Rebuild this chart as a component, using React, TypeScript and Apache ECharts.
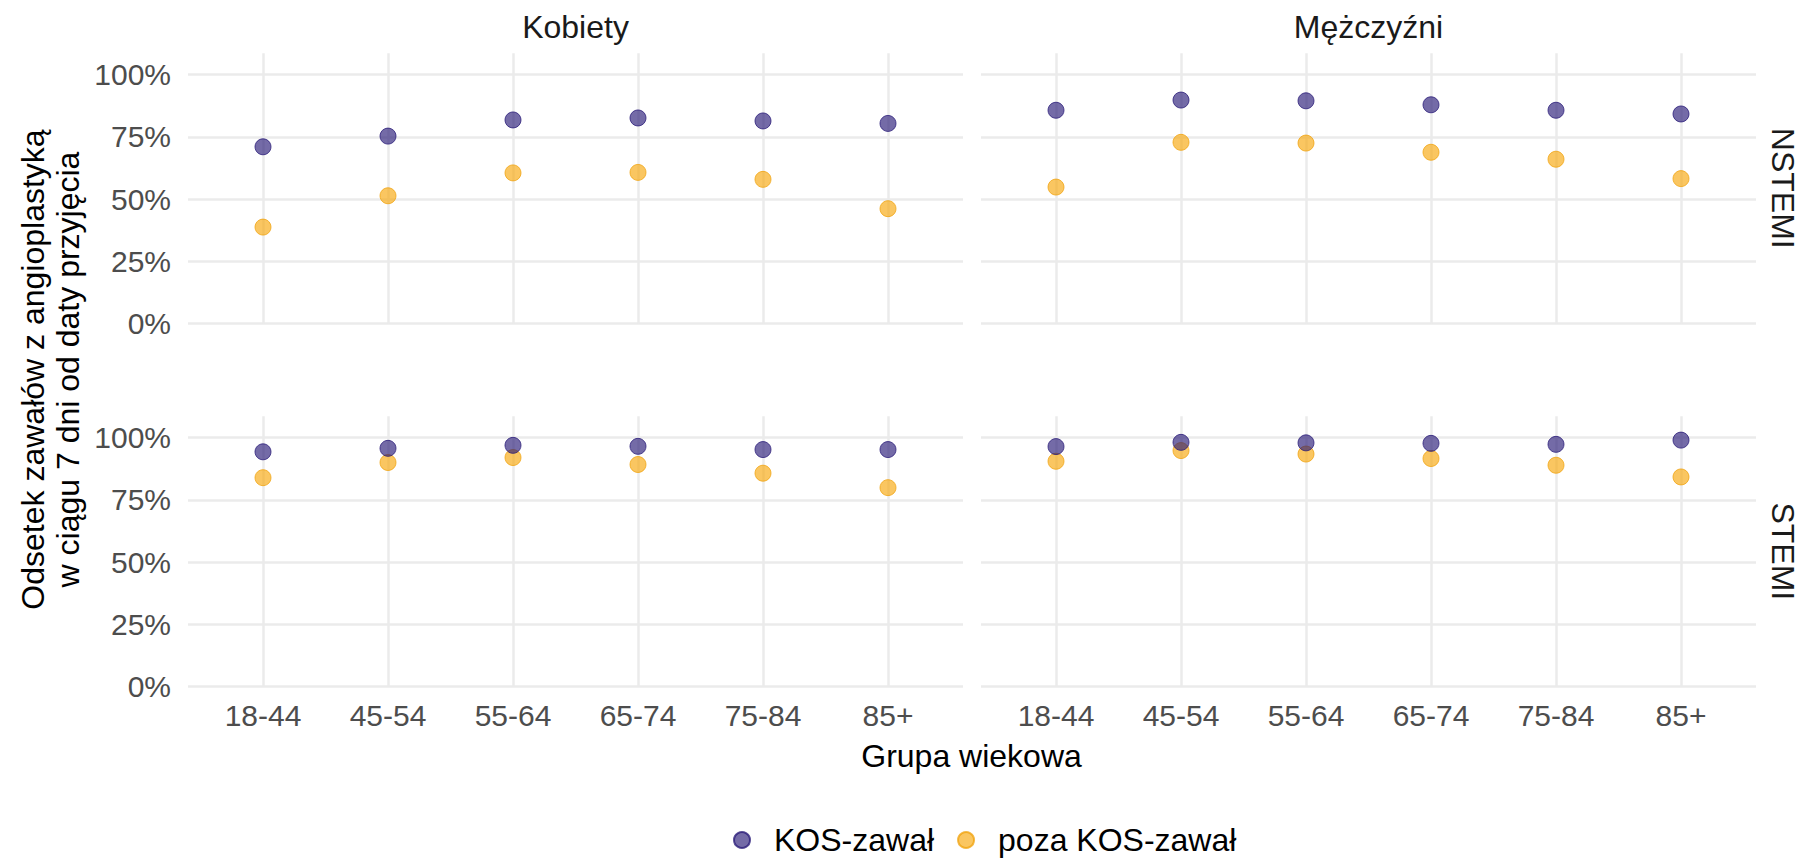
import React, { useEffect, useRef } from "react";
import * as echarts from "echarts";

const categories = ["18-44", "45-54", "55-64", "65-74", "75-84", "85+"];
const yTicks = [0, 0.25, 0.5, 0.75, 1];
const xTicks = [0, 1, 2, 3, 4, 5];

const kobietyNstemiKos = [0.71, 0.753, 0.818, 0.826, 0.814, 0.804];
const kobietyNstemiPoza = [0.387, 0.513, 0.605, 0.607, 0.579, 0.461];
const mezczyzniNstemiKos = [0.857, 0.898, 0.895, 0.879, 0.857, 0.842];
const mezczyzniNstemiPoza = [0.548, 0.728, 0.725, 0.688, 0.66, 0.582];
const kobietyStemiKos = [0.943, 0.957, 0.969, 0.965, 0.952, 0.952];
const kobietyStemiPoza = [0.839, 0.9, 0.92, 0.892, 0.857, 0.799];
const mezczyzniStemiKos = [0.964, 0.981, 0.979, 0.977, 0.973, 0.99];
const mezczyzniStemiPoza = [0.905, 0.948, 0.934, 0.916, 0.889, 0.842];

const SERIES_KOS = "KOS-zawał";
const SERIES_POZA = "poza KOS-zawał";
const colKos = "rgba(38,24,118,0.8)";
const colKosBorder = "rgba(38,24,118,0.95)";
const colPoza = "rgba(247,166,8,0.8)";
const colPozaBorder = "rgba(240,160,5,0.9)";

const FONT = "'Liberation Sans', Arial, sans-serif";
const GRID_COLOR = "#EBEBEB";

export default function App() {
  const ref = useRef<HTMLDivElement>(null);
  useEffect(() => {
    document.body.style.margin = "0";
    const chart = echarts.init(ref.current!, null, { renderer: "svg" });

    const grids = [
      { left: 188, top: 53.3, width: 775, height: 270 },
      { left: 981, top: 53.3, width: 775, height: 270 },
      { left: 188, top: 416.2, width: 775, height: 270.3 },
      { left: 981, top: 416.2, width: 775, height: 270.3 },
    ];

    const xAxes = grids.map((_, i) => ({
      type: "value",
      gridIndex: i,
      min: -0.6,
      max: 5.6,
      axisLine: { show: false },
      axisTick: { show: false, customValues: xTicks },
      axisLabel: {
        show: i >= 2,
        customValues: xTicks,
        formatter: (v: number) => categories[Math.round(v)] ?? "",
        color: "#4D4D4D",
        fontSize: 30,
        fontFamily: FONT,
        margin: 14,
      },
      splitLine: { show: true, lineStyle: { color: GRID_COLOR, width: 2.5 } },
    }));

    const yAxes = grids.map((_, i) => ({
      type: "value",
      gridIndex: i,
      min: 0,
      max: 1.0861,
      axisLine: { show: false },
      axisTick: { show: false, customValues: yTicks },
      axisLabel: {
        show: i % 2 === 0,
        customValues: yTicks,
        formatter: (v: number) => Math.round(v * 100) + "%",
        color: "#4D4D4D",
        fontSize: 30,
        fontFamily: FONT,
        margin: 17,
      },
      splitLine: { show: true, lineStyle: { color: GRID_COLOR, width: 2.5 } },
    }));

    const panels = [
      [kobietyNstemiKos, kobietyNstemiPoza],
      [mezczyzniNstemiKos, mezczyzniNstemiPoza],
      [kobietyStemiKos, kobietyStemiPoza],
      [mezczyzniStemiKos, mezczyzniStemiPoza],
    ];

    const series: any[] = [];
    panels.forEach(([kos, poza], i) => {
      series.push({
        type: "scatter",
        name: SERIES_POZA,
        xAxisIndex: i,
        yAxisIndex: i,
        symbolSize: 16,
        itemStyle: { color: colPoza, borderColor: colPozaBorder, borderWidth: 1 },
        data: poza.map((v, j) => [j, v]),
      });
      series.push({
        type: "scatter",
        name: SERIES_KOS,
        xAxisIndex: i,
        yAxisIndex: i,
        symbolSize: 16,
        itemStyle: { color: colKos, borderColor: colKosBorder, borderWidth: 1 },
        data: kos.map((v, j) => [j, v]),
      });
    });

    const stripStyle = { fill: "#1A1A1A", fontSize: 32, fontFamily: FONT };

    chart.setOption({
      animation: false,
      backgroundColor: "#FFFFFF",
      grid: grids,
      xAxis: xAxes,
      yAxis: yAxes,
      series,
      legend: {
        data: [SERIES_KOS, SERIES_POZA],
        left: 733,
        top: 824,
        padding: 0,
        icon: "circle",
        itemWidth: 16,
        itemHeight: 16,
        itemGap: 23,
        textStyle: {
          color: "#000000",
          fontSize: 32,
          fontFamily: FONT,
          padding: [0, 0, 0, 19],
        },
      },
      graphic: [
        {
          type: "text",
          x: 575.5,
          y: 27,
          style: { ...stripStyle, text: "Kobiety", textAlign: "center", textVerticalAlign: "middle" },
        },
        {
          type: "text",
          x: 1368.5,
          y: 27,
          style: { ...stripStyle, text: "Mężczyźni", textAlign: "center", textVerticalAlign: "middle" },
        },
        {
          type: "text",
          x: 1783,
          y: 188.3,
          rotation: -Math.PI / 2,
          style: { ...stripStyle, text: "NSTEMI", textAlign: "center", textVerticalAlign: "middle" },
        },
        {
          type: "text",
          x: 1783,
          y: 551.3,
          rotation: -Math.PI / 2,
          style: { ...stripStyle, text: "STEMI", textAlign: "center", textVerticalAlign: "middle" },
        },
        {
          type: "text",
          x: 971.5,
          y: 756,
          style: {
            text: "Grupa wiekowa",
            fill: "#000000",
            fontSize: 32,
            fontFamily: FONT,
            textAlign: "center",
            textVerticalAlign: "middle",
          },
        },
        {
          type: "text",
          x: 50,
          y: 369.5,
          rotation: Math.PI / 2,
          style: {
            text: "Odsetek zawałów z angioplastyką\nw ciągu 7 dni od daty przyjęcia",
            fill: "#000000",
            fontSize: 32,
            lineHeight: 35,
            fontFamily: FONT,
            textAlign: "center",
            textVerticalAlign: "middle",
          },
        },
      ],
    });

    return () => chart.dispose();
  }, []);

  return <div ref={ref} style={{ width: 1800, height: 859 }} />;
}
